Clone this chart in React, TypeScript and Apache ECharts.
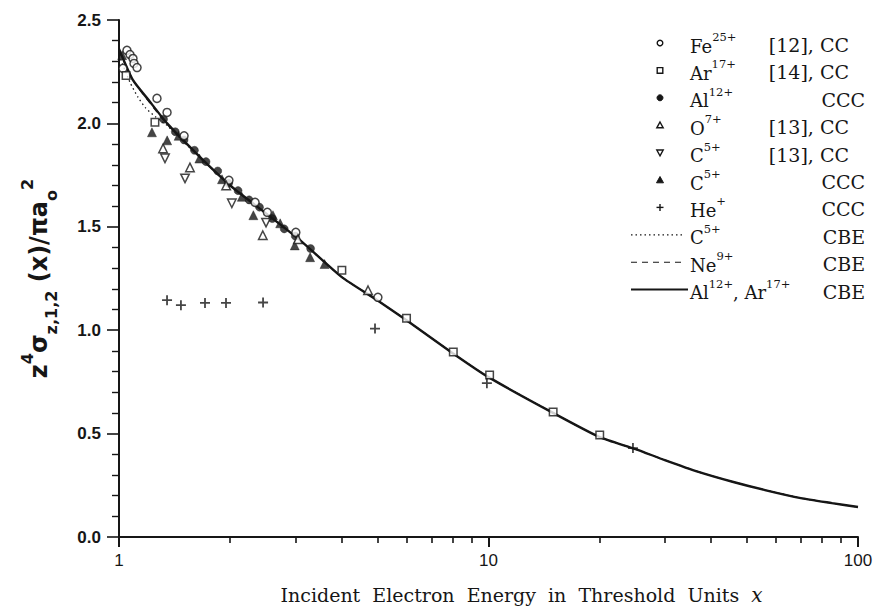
import { useEffect, useRef } from "react";
import * as echarts from "echarts";

// ---- Data ----
const curveX = [1, 1.09, 1.2, 1.35, 1.66, 2.03, 2.5, 3.1, 4, 5, 6, 8, 10, 15, 20, 25, 30, 37, 46, 56, 70, 85, 100];
const curveY = [2.36, 2.21, 2.115, 2.0, 1.836, 1.69, 1.565, 1.433, 1.258, 1.145, 1.048, 0.889, 0.773, 0.599, 0.483, 0.425, 0.372, 0.315, 0.266, 0.227, 0.188, 0.164, 0.145];

const c5CbeX = [1, 1.07, 1.126, 1.18, 1.26, 1.35, 1.66, 2.03, 2.5, 3.1, 4, 5, 6, 8, 10, 15, 20, 25, 30, 37, 46, 56, 70, 85, 100];
const c5CbeY = [2.33, 2.2, 2.126, 2.075, 2.03, 1.99, 1.832, 1.69, 1.565, 1.433, 1.258, 1.145, 1.048, 0.889, 0.773, 0.599, 0.483, 0.425, 0.372, 0.315, 0.266, 0.227, 0.188, 0.164, 0.145];

const ne9CbeX = [1, 1.1, 1.35, 1.66, 2.03, 2.5, 3.1, 4, 5, 6, 8, 10, 15, 20, 25, 30, 37, 46, 56, 70, 85, 100];
const ne9CbeY = [2.35, 2.2, 1.995, 1.834, 1.69, 1.565, 1.433, 1.258, 1.145, 1.048, 0.889, 0.773, 0.599, 0.483, 0.425, 0.372, 0.315, 0.266, 0.227, 0.188, 0.164, 0.145];

const fe25X = [1.025, 1.051, 1.071, 1.091, 1.098, 1.119, 1.267, 1.349, 1.5, 1.984, 2.335, 2.52, 3.01, 5.02];
const fe25Y = [2.266, 2.353, 2.333, 2.314, 2.29, 2.27, 2.121, 2.053, 1.94, 1.725, 1.618, 1.57, 1.473, 1.159];

const ar17X = [1.045, 1.251, 4.01, 6.0, 8.03, 10.07, 14.96, 20.0];
const ar17Y = [2.232, 2.005, 1.29, 1.058, 0.894, 0.783, 0.604, 0.493];

const al12X = [1.32, 1.42, 1.5, 1.6, 1.72, 1.85, 1.98, 2.1, 2.25, 2.4, 2.6, 2.8, 3.0, 3.3];
const al12Y = [2.02, 1.96, 1.92, 1.87, 1.815, 1.77, 1.71, 1.675, 1.63, 1.595, 1.54, 1.49, 1.455, 1.395];

const o7X = [1.316, 1.556, 1.95, 2.45, 3.05, 4.72];
const o7Y = [1.879, 1.787, 1.7, 1.459, 1.44, 1.193];

const c5ccX = [1.332, 1.509, 2.02, 2.5];
const c5ccY = [1.831, 1.734, 1.614, 1.52];

const c5cccX = [1.02, 1.228, 1.35, 1.45, 1.65, 1.9, 2.15, 2.31, 2.61, 2.73, 2.99, 3.29, 3.6];
const c5cccY = [2.33, 1.957, 1.918, 1.94, 1.83, 1.73, 1.645, 1.556, 1.556, 1.517, 1.41, 1.353, 1.32];

const heX = [1.349, 1.471, 1.709, 1.948, 2.454, 4.93, 9.9, 24.6];
const heY = [1.145, 1.121, 1.132, 1.132, 1.134, 1.008, 0.744, 0.43];

const xMinorTicks = [2, 3, 4, 5, 6, 7, 8, 9, 20, 30, 40, 50, 60, 70, 80, 90];

const legendNames = [
  "{n|Fe}{s|25+}",
  "{n|Ar}{s|17+}",
  "{n|Al}{s|12+}",
  "{n|O}{s|7+}",
  "{n|C}{s|5+}",
  "{n|C}{s|5+}",
  "{n|He}{s|+}",
  "{n|C}{s|5+}",
  "{n|Ne}{s|9+}",
  "{n|Al}{s|12+}{n|, Ar}{s|17+}",
];
const legendSources = ["[12], CC", "[14], CC", "CCC", "[13], CC", "[13], CC", "CCC", "CCC", "CBE", "CBE", "CBE"];

const zip = (xs: number[], ys: number[]) => xs.map((x, i) => [x, ys[i]]);

const INK = "#161616";
const SERIF = "DejaVu Serif";
const SANS = "Liberation Sans";
const PLUS = "path://M4.1,0H5.9V4.1H10V5.9H5.9V10H4.1V5.9H0V4.1H4.1Z";

function legendGraphics() {
  const els: any[] = [];
  const cx = 660;
  const x1 = 631;
  const x2 = 688;
  const y0 = 43;
  const step = 27.4;
  const open = { fill: "#fff", stroke: INK, lineWidth: 1.4 };
  const filled = { fill: INK, stroke: INK, lineWidth: 1 };
  const kinds = ["circle", "square", "dot", "tri", "tridown", "trifill", "plus", "dotted", "dashed", "solid"];
  kinds.forEach((k, i) => {
    const y = y0 + step * i;
    if (k === "circle") els.push({ type: "circle", shape: { cx, cy: y, r: 2.8 }, style: open });
    if (k === "square") els.push({ type: "rect", shape: { x: cx - 2.8, y: y - 2.8, width: 5.6, height: 5.6 }, style: open });
    if (k === "dot") els.push({ type: "circle", shape: { cx, cy: y, r: 3 }, style: filled });
    if (k === "tri") els.push({ type: "polygon", shape: { points: [[cx, y - 3.2], [cx + 3.2, y + 2.6], [cx - 3.2, y + 2.6]] }, style: open });
    if (k === "tridown") els.push({ type: "polygon", shape: { points: [[cx, y + 3.2], [cx + 3.2, y - 2.6], [cx - 3.2, y - 2.6]] }, style: open });
    if (k === "trifill") els.push({ type: "polygon", shape: { points: [[cx, y - 3.5], [cx + 3.5, y + 2.8], [cx - 3.5, y + 2.8]] }, style: filled });
    if (k === "plus") {
      els.push({ type: "line", shape: { x1: cx - 3.5, y1: y, x2: cx + 3.5, y2: y }, style: { stroke: INK, lineWidth: 1.4 } });
      els.push({ type: "line", shape: { x1: cx, y1: y - 3.5, x2: cx, y2: y + 3.5 }, style: { stroke: INK, lineWidth: 1.4 } });
    }
    if (k === "dotted") els.push({ type: "line", shape: { x1, y1: y, x2: x2 - 5, y2: y }, style: { stroke: INK, lineWidth: 1.2, lineDash: [1.5, 3] } });
    if (k === "dashed") els.push({ type: "line", shape: { x1, y1: y, x2: x2 - 5, y2: y }, style: { stroke: INK, lineWidth: 1.1, lineDash: [6, 5] } });
    if (k === "solid") els.push({ type: "line", shape: { x1, y1: y, x2, y2: y }, style: { stroke: INK, lineWidth: 2 } });

    els.push({
      type: "text",
      x: 690,
      y,
      style: {
        text: legendNames[i],
        align: "left",
        verticalAlign: "middle",
        fill: INK,
        rich: {
          n: { fontFamily: SERIF, fontSize: 18, lineHeight: 24, verticalAlign: "bottom", fill: INK },
          s: { fontFamily: SERIF, fontSize: 11.5, lineHeight: 24, verticalAlign: "top", fill: INK },
        },
      },
    });
    const src = legendSources[i];
    const isCC = src.indexOf("[") === 0;
    els.push({
      type: "text",
      x: isCC ? 849 : 865,
      y: y + 2,
      style: {
        text: src,
        align: "right",
        verticalAlign: "middle",
        fontFamily: SERIF,
        fontSize: 19,
        fill: INK,
      },
    });
  });
  return els;
}

export default function App() {
  const ref = useRef<HTMLDivElement>(null);
  useEffect(() => {
    const chart = echarts.init(ref.current!, null, { renderer: "svg" });
    const openItem = { color: "#fff", borderColor: INK, borderWidth: 1.5 };
    const fillItem = { color: INK, borderColor: INK, borderWidth: 0.5 };
    const option: any = {
      animation: false,
      backgroundColor: "#fff",
      grid: { left: 119, right: 15, top: 20, bottom: 75, containLabel: false, outerBoundsMode: "none" },
      xAxis: [
        {
          type: "log",
          logBase: 10,
          min: 1,
          max: 100,
          position: "bottom",
          axisLine: { show: true, lineStyle: { color: INK, width: 2 } },
          axisTick: { show: true, length: 10, lineStyle: { color: INK, width: 2 } },
          axisLabel: { color: INK, fontFamily: SANS, fontSize: 17, margin: 15 },
          splitLine: { show: false },
          minorTick: { show: false },
          name: "Incident  Electron  Energy  in  Threshold  Units  {i|x}",
          nameLocation: "middle",
          nameGap: 48,
          nameTextStyle: {
            color: INK,
            fontFamily: SERIF,
            fontSize: 19,
            padding: [0, 0, 0, 66],
            rich: { i: { fontFamily: SERIF, fontStyle: "italic", fontSize: 20, color: INK } },
          },
        },
        {
          type: "value",
          min: 0,
          max: 2,
          position: "bottom",
          axisLine: { show: false },
          axisTick: { show: true, length: 6, customValues: xMinorTicks.map((v) => Math.log10(v)), lineStyle: { color: INK, width: 1.6 } },
          axisLabel: { show: false },
          splitLine: { show: false },
        },
      ],
      yAxis: {
        type: "value",
        min: 0,
        max: 2.5,
        interval: 0.5,
        axisLine: { show: true, lineStyle: { color: INK, width: 2 } },
        axisTick: { show: true, length: 12, lineStyle: { color: INK, width: 1.6 } },
        minorTick: { show: true, splitNumber: 5, length: 7, lineStyle: { color: INK, width: 1.4 } },
        splitLine: { show: false },
        axisLabel: {
          color: INK,
          fontFamily: SANS,
          fontWeight: "bold",
          fontSize: 17,
          margin: 18,
          formatter: (v: number) => v.toFixed(1),
        },
        name: "{b|z}{p|4}{b|σ}{d|z,1,2}{b| (x)/πa}{d|o}{p|2}",
        nameLocation: "middle",
        nameRotate: 90,
        nameGap: 60,
        nameTextStyle: {
          color: INK,
          rich: {
            b: { fontFamily: "DejaVu Sans", fontWeight: "bold", fontSize: 24, lineHeight: 40, verticalAlign: "middle", color: INK },
            p: { fontFamily: "DejaVu Sans", fontWeight: "bold", fontSize: 16, lineHeight: 40, verticalAlign: "top", color: INK },
            d: { fontFamily: "DejaVu Sans", fontWeight: "bold", fontSize: 16, lineHeight: 40, verticalAlign: "bottom", color: INK },
          },
        },
      },
      series: [
        {
          name: "C5+ CBE",
          type: "line",
          data: zip(c5CbeX, c5CbeY),
          symbol: "none",
          smooth: 0.2,
          lineStyle: { color: INK, width: 1.3, type: [1.5, 3] },
          z: 2,
        },
        {
          name: "Ne9+ CBE",
          type: "line",
          data: zip(ne9CbeX, ne9CbeY),
          symbol: "none",
          smooth: 0.2,
          lineStyle: { color: INK, width: 1.2, type: [6, 5] },
          z: 2,
        },
        {
          name: "Al12+, Ar17+ CBE",
          type: "line",
          data: zip(curveX, curveY),
          symbol: "none",
          smooth: 0.2,
          lineStyle: { color: INK, width: 2.4 },
          z: 3,
        },
        { name: "Al12+ CCC", type: "scatter", data: zip(al12X, al12Y), symbol: "circle", symbolSize: 8, itemStyle: fillItem, z: 4 },
        { name: "C5+ CCC", type: "scatter", data: zip(c5cccX, c5cccY), symbol: "triangle", symbolSize: 9, itemStyle: fillItem, z: 4 },
        { name: "Fe25+ CC", type: "scatter", data: zip(fe25X, fe25Y), symbol: "circle", symbolSize: 8, itemStyle: openItem, z: 5 },
        { name: "Ar17+ CC", type: "scatter", data: zip(ar17X, ar17Y), symbol: "rect", symbolSize: 7.5, itemStyle: openItem, z: 5 },
        { name: "O7+ CC", type: "scatter", data: zip(o7X, o7Y), symbol: "triangle", symbolSize: 8.5, itemStyle: openItem, z: 5 },
        { name: "C5+ CC", type: "scatter", data: zip(c5ccX, c5ccY), symbol: "triangle", symbolRotate: 180, symbolSize: 8.5, itemStyle: openItem, z: 5 },
        { name: "He+ CCC", type: "scatter", data: zip(heX, heY), symbol: PLUS, symbolSize: 10, itemStyle: { color: INK }, z: 5 },
      ],
      graphic: legendGraphics(),
    };
    chart.setOption(option);
    return () => chart.dispose();
  }, []);
  return (
    <div
      ref={ref}
      style={{ position: "fixed", left: 0, top: 0, width: 873, height: 612, background: "#fff" }}
    />
  );
}
